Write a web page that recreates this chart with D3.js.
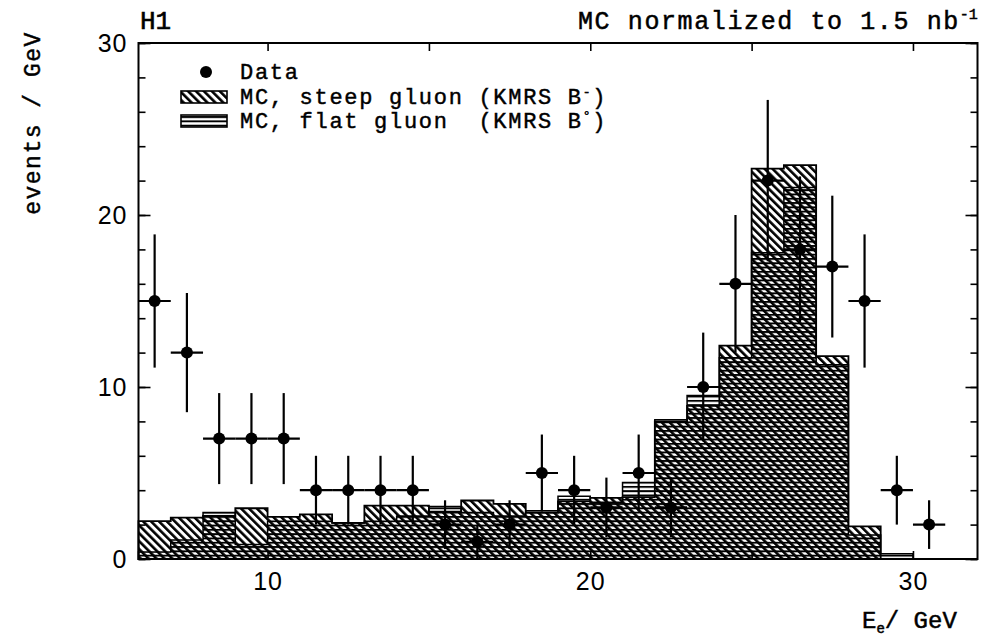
<!DOCTYPE html>
<html>
<head>
<meta charset="utf-8">
<script src="https://cdn.jsdelivr.net/npm/d3@7"></script>
<style>
html,body{margin:0;padding:0;background:#fff;}
svg{display:block;}
</style>
</head>
<body>
<svg id="chart" width="983" height="637"></svg>
<script>
// ---- data ----
const binEdges = d3.range(6, 31, 1);            // 6..30 GeV, 1 GeV bins
const mcSteep = [2.2, 2.4, 2.5, 2.95, 2.45, 2.6, 2.1, 3.1, 3.1, 2.75, 3.4, 3.2,
                 2.7, 3.35, 3.55, 3.6, 8.0, 8.9, 12.4, 22.7, 22.9, 11.8, 1.9, 0];
const mcFlat  = [0.4, 1.1, 2.7, 0.85, 2.2, 2.2, 2.1, 2.2, 2.5, 3.05, 2.7, 2.5,
                 2.8, 3.65, 3.3, 4.45, 8.1, 9.5, 11.7, 17.8, 21.6, 11.3, 1.4, 0.3];
const dataX   = d3.range(6.5, 31, 1);          // bin centres 6.5..30.5
const dataY   = [15, 12, 7, 7, 7, 4, 4, 4, 4, 2, 1, 2, 5, 4, 3, 5, 3, 10, 16, 22, 18, 17, 15, 4, 2];
const xMajorTicks = [10, 15, 20, 25, 30];
const xLabelTicks = [10, 20, 30];
const yMinorTicks = d3.range(0, 31, 2);
const yLabelTicks = [0, 10, 20, 30];

const svg = d3.select("#chart");
const L = 138.5, R = 977.5, T = 43, B = 559;
const x = d3.scaleLinear().domain([6, 32]).range([L, R]);
const y = d3.scaleLinear().domain([0, 30]).range([B, T]);

// patterns
const defs = svg.append("defs");
const pd = defs.append("pattern").attr("id", "diag").attr("patternUnits", "userSpaceOnUse")
  .attr("width", 5.6).attr("height", 10).attr("patternTransform", "rotate(-45)");
pd.append("rect").attr("x", 0).attr("y", 0).attr("width", 2.6).attr("height", 10).attr("fill", "#000");
const ph = defs.append("pattern").attr("id", "horiz").attr("patternUnits", "userSpaceOnUse")
  .attr("width", 10).attr("height", 4.3);
ph.append("rect").attr("x", 0).attr("y", 0).attr("width", 10).attr("height", 1.9).attr("fill", "#000");

function stepPath(vals) {
  let p = `M${x(binEdges[0])},${y(0)}`;
  vals.forEach((v, i) => {
    p += `L${x(binEdges[i])},${y(v)}L${x(binEdges[i + 1])},${y(v)}`;
  });
  p += `L${x(binEdges[vals.length])},${y(0)}Z`;
  return p;
}

const g = svg.append("g");
g.append("path").attr("d", stepPath(mcSteep)).attr("fill", "url(#diag)").attr("stroke", "none");
g.append("path").attr("d", stepPath(mcFlat)).attr("fill", "url(#horiz)").attr("stroke", "none");
g.append("path").attr("d", stepPath(mcSteep)).attr("fill", "none").attr("stroke", "#000").attr("stroke-width", 1.8);
g.append("path").attr("d", stepPath(mcFlat)).attr("fill", "none").attr("stroke", "#000").attr("stroke-width", 1.5);

// data points with errors
const pts = svg.append("g");
dataX.forEach((cx, i) => {
  const v = dataY[i], e = Math.sqrt(v);
  pts.append("line").attr("x1", x(cx)).attr("x2", x(cx)).attr("y1", y(v - e)).attr("y2", y(v + e))
    .attr("stroke", "#000").attr("stroke-width", 2.2);
  pts.append("line").attr("x1", x(cx - 0.5)).attr("x2", x(cx + 0.5)).attr("y1", y(v)).attr("y2", y(v))
    .attr("stroke", "#000").attr("stroke-width", 2.2);
  pts.append("circle").attr("cx", x(cx)).attr("cy", y(v)).attr("r", 6).attr("fill", "#000");
});

// frame
svg.append("rect").attr("x", L).attr("y", T).attr("width", R - L).attr("height", B - T)
  .attr("fill", "none").attr("stroke", "#000").attr("stroke-width", 2);

// axes
const tickFont = "'Liberation Sans', Arial, sans-serif";
function styleAxis(sel) {
  sel.select(".domain").remove();
  sel.selectAll(".tick line").attr("stroke", "#000").attr("stroke-width", 1.6);
  sel.selectAll(".tick text").attr("fill", "#000").attr("font-family", tickFont)
    .attr("font-size", 25).attr("letter-spacing", 1);
}
svg.append("g").attr("transform", `translate(0,${B})`)
  .call(d3.axisBottom(x).tickValues(xMajorTicks).tickSizeInner(-8).tickSizeOuter(0).tickPadding(13)
    .tickFormat(d => xLabelTicks.includes(d) ? d : ""))
  .call(styleAxis);
svg.append("g").attr("transform", `translate(0,${T})`)
  .call(d3.axisTop(x).tickValues(xMajorTicks).tickSizeInner(-8).tickSizeOuter(0).tickFormat(""))
  .call(styleAxis);
svg.append("g").attr("transform", `translate(${L},0)`)
  .call(d3.axisLeft(y).tickValues(yMinorTicks).tickSizeInner(-7).tickSizeOuter(0).tickFormat(""))
  .call(styleAxis);
svg.append("g").attr("transform", `translate(${L},0)`)
  .call(d3.axisLeft(y).tickValues(yLabelTicks).tickSizeInner(-12).tickSizeOuter(0).tickPadding(11))
  .call(styleAxis);
svg.append("g").attr("transform", `translate(${R},0)`)
  .call(d3.axisRight(y).tickValues(yMinorTicks).tickSizeInner(-7).tickSizeOuter(0).tickFormat(""))
  .call(styleAxis);
svg.append("g").attr("transform", `translate(${R},0)`)
  .call(d3.axisRight(y).tickValues(yLabelTicks).tickSizeInner(-12).tickSizeOuter(0).tickFormat(""))
  .call(styleAxis);

// texts (medium-weight typewriter look: regular mono + thin outline)
const mono = "'Liberation Mono', 'Courier New', monospace";
function ink(sel, w) { return sel.attr("fill", "#000").attr("stroke", "#000").attr("stroke-width", w); }
ink(svg.append("text").attr("x", 140).attr("y", 29).attr("font-family", mono).attr("font-size", 26), 0.6)
  .text("H1");
const title = ink(svg.append("text").attr("x", 578).attr("y", 29).attr("font-family", mono)
  .attr("font-size", 25).attr("letter-spacing", 1.6), 0.5);
title.append("tspan").text("MC normalized to 1.5 nb");
title.append("tspan").attr("dy", -10).attr("font-size", 15).attr("letter-spacing", 0).text("-1");

ink(svg.append("text").attr("transform", "translate(40,123) rotate(-90)").attr("text-anchor", "middle")
  .attr("font-family", mono).attr("font-size", 23).attr("letter-spacing", 1.5), 0.45)
  .text("events / GeV");

const xt = ink(svg.append("text").attr("x", 862).attr("y", 628).attr("font-family", mono)
  .attr("font-size", 24), 0.5);
xt.append("tspan").text("E");
xt.append("tspan").attr("dy", 5).attr("font-size", 14).text("e");
xt.append("tspan").attr("dy", -5).text("/ GeV");

// legend
const lg = svg.append("g");
lg.append("circle").attr("cx", 206).attr("cy", 72).attr("r", 6).attr("fill", "#000");
lg.append("rect").attr("x", 181).attr("y", 91).attr("width", 46).attr("height", 12)
  .attr("fill", "url(#diag)").attr("stroke", "#000").attr("stroke-width", 1.6);
lg.append("rect").attr("x", 181).attr("y", 115).attr("width", 46).attr("height", 12)
  .attr("fill", "url(#horiz)").attr("stroke", "#000").attr("stroke-width", 1.6);
function legText(yb) {
  return ink(lg.append("text").attr("x", 240).attr("y", yb).attr("font-family", mono)
    .attr("font-size", 22).attr("letter-spacing", 1.7)
    .attr("xml:space", "preserve").style("white-space", "pre"), 0.45);
}
legText(79).text("Data");
const t2 = legText(104);
t2.append("tspan").text("MC, steep gluon (KMRS B");
t2.append("tspan").attr("dy", -8).attr("font-size", 13).text("-");
t2.append("tspan").attr("dy", 8).text(")");
const t3 = legText(128);
t3.append("tspan").text("MC, flat gluon  (KMRS B");
t3.append("tspan").attr("dy", -8).attr("font-size", 13).text("°");
t3.append("tspan").attr("dy", 8).text(")");
</script>
</body>
</html>
